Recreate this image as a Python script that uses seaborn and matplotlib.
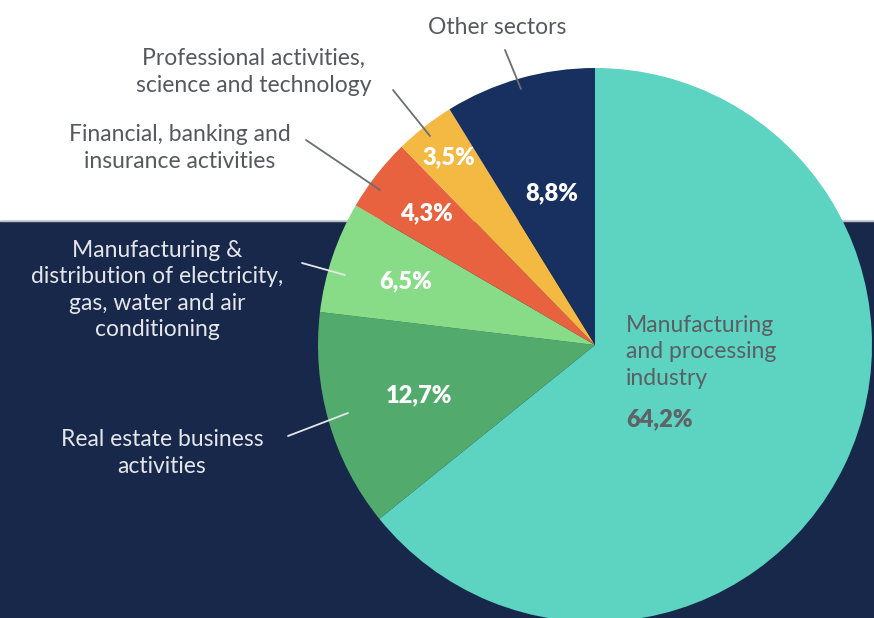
import numpy as np
import matplotlib
matplotlib.use("Agg")
import matplotlib.pyplot as plt
import seaborn as sns

# Sector shares (%), clockwise from 12 o'clock
sectors = ["Manufacturing and processing industry",
           "Real estate business activities",
           "Manufacturing & distribution of electricity, gas, water and air conditioning",
           "Financial, banking and insurance activities",
           "Professional activities, science and technology",
           "Other sectors"]
shares = [64.2, 12.7, 6.5, 4.3, 3.5, 8.8]
pct_labels = ["64,2%", "12,7%", "6,5%", "4,3%", "3,5%", "8,8%"]
colors = ["#5dd3c1", "#52ab6d", "#88dc88", "#e8623f", "#f4b942", "#173060"]

sns.set_theme(style="white")
plt.rcParams['font.family'] = ['Lato', 'DejaVu Sans']

W, H = 874, 618
fig = plt.figure(figsize=(W / 100, H / 100), dpi=100)
ax = fig.add_axes([0, 0, 1, 1])

def py(y):
    # pixel row -> data y
    return H - y

# background: white top band, navy lower part
ax.axhspan(py(221), H, color="white", zorder=0)
ax.axhspan(0, py(221), color="#18284a", zorder=0)
ax.axhline(py(221), color="#b8bdc8", lw=1, zorder=0)

cx, cy, r = 595, py(345), 277
wedges, _ = ax.pie(shares, colors=colors, startangle=90, counterclock=False,
                   center=(cx, cy), radius=r, frame=True,
                   wedgeprops=dict(linewidth=0))
ax.set_xlim(0, W)
ax.set_ylim(0, H)
ax.set_aspect("equal")
ax.axis("off")

FS = 16.5
LS = 1.32

# percentage labels inside the small slices
radii = [None, 0.66, 0.72, 0.77, 0.86, 0.57]
for w, lab, rf in zip(wedges, pct_labels, radii):
    if rf is None:
        continue
    mid = np.deg2rad((w.theta1 + w.theta2) / 2)
    ax.text(cx + rf * r * np.cos(mid), cy + rf * r * np.sin(mid), lab,
            ha="center", va="center", color="white", fontsize=17,
            fontweight="heavy", zorder=5)

# big slice label
ax.text(626, py(352), "Manufacturing\nand processing\nindustry", ha="left",
        va="center", color="#5a5f63", fontsize=FS, linespacing=LS)
ax.text(626, py(419), pct_labels[0], ha="left", va="center",
        color="#5f6266", fontsize=17, fontweight="heavy")

# outside labels with leader lines
light, dark = "#e4e6ea", "#55595d"
outside = [
    ("Real estate business\nactivities", 162, 453, light, (288, 436), (348, 413)),
    ("Manufacturing &\ndistribution of electricity,\ngas, water and air\nconditioning",
     157, 290, light, (302, 263), (345, 275)),
    ("Financial, banking and\ninsurance activities", 180, 148, dark, (306, 140), (380, 190)),
    ("Professional activities,\nscience and technology", 254, 72, dark, (393, 90), (430, 136)),
    ("Other sectors", 497, 27, dark, (505, 50), (521, 89)),
]
for txt, tx, ty, col, p0, p1 in outside:
    ax.text(tx, py(ty), txt, ha="center", va="center", color=col,
            fontsize=FS, linespacing=LS)
    lc = light if col == light else "#6a6e72"
    ax.plot([p0[0], p1[0]], [py(p0[1]), py(p1[1])], color=lc, lw=1.3, zorder=4)

fig.savefig("out.png", dpi=100)
